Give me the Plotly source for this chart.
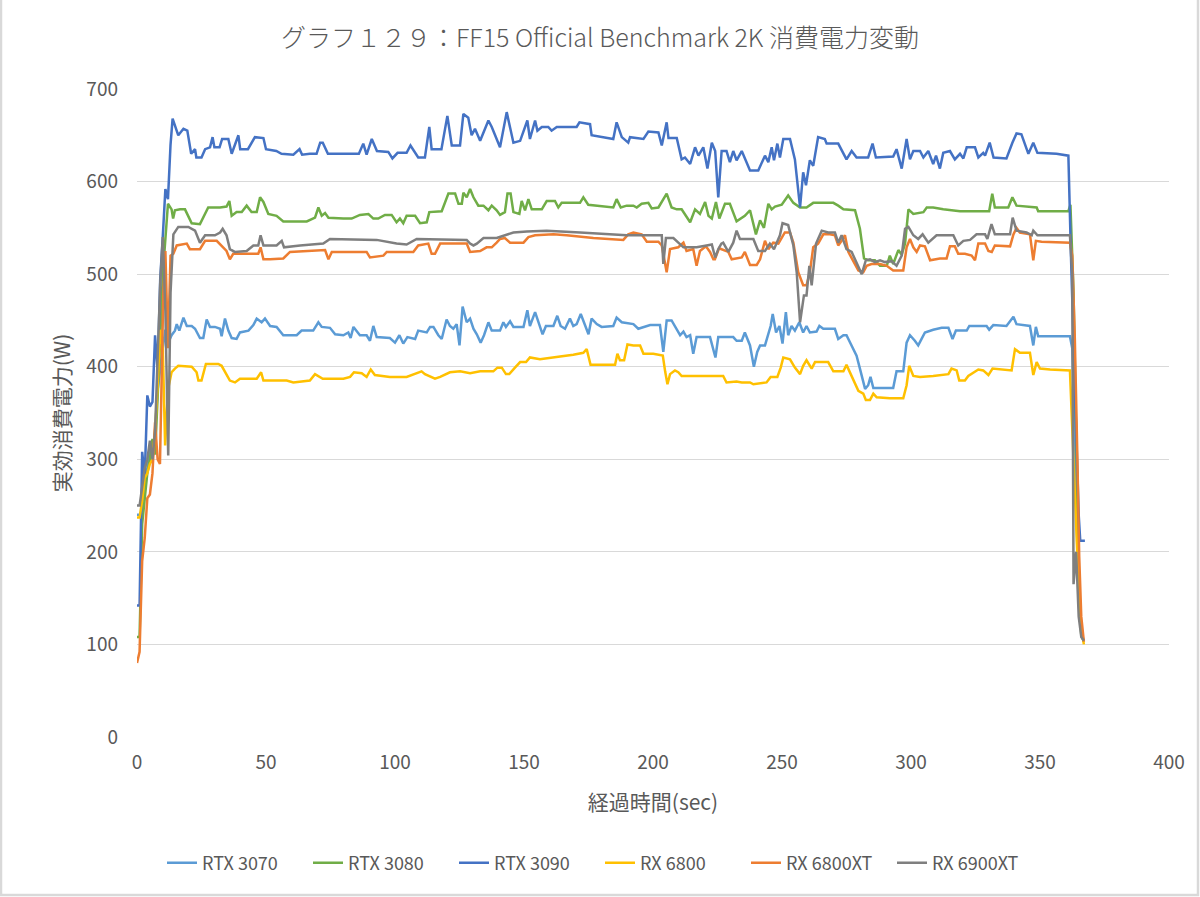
import plotly.graph_objects as go

# elapsed time (sec), watts, one list per card
RTX3070 = [(0,240),(1,240),(2,245),(3,275),(4,290),(5,312),(6,305),(7,330),(8,375),(9,400),(10,420),(11,440),(12,425),
    (13.4,434),(14.7,439),(15.4,446),(16.4,439),(18,453),(19.3,444),(21.2,444),(22.5,441),(24.4,431),(25.7,431),(27,451),
    (28.3,443),(30.2,443),(32.2,441),(32.8,433),(34.1,452),(35.4,439),(36.7,431),(38.6,430),(39.9,437),(43.2,439),(45.1,445),
    (46.4,452),(48.3,448),(49.6,452),(51.6,444),(54.1,443),(56.7,434),(61.9,434),(63.8,439),(68.3,439),(70.3,448),(71.6,443),
    (74.8,442),(76.8,435),(80,434),(81.9,437),(82.8,431),(83.9,443),(86.4,434),(89,434),(90.3,428),(91.6,444),(92.9,432),
    (98,431),(100,426),(101.7,434),(103.2,425),(104.8,432),(107.8,430),(109,439),(112.3,437),(113.6,443),(114.9,443),
    (116.8,434),(118.1,430),(120,451),(121.3,444),(122.6,441),(123.9,446),(125,423),(126.2,465),(127.8,448),(129.1,452),
    (130.4,441),(131.7,435),(133.2,426),(134.5,434),(136.2,448),(137.5,439),(140.7,439),(142,448),(143,443),(144.6,449),
    (145.9,443),(149.8,443),(151.3,461),(152.3,444),(154.3,459),(155.6,448),(157.2,435),(158.5,444),(161.4,444),(162.9,455),
    (164.2,444),(165.9,441),(167.8,452),(169.1,444),(170.4,446),(172,457),(173.7,444),(175,435),(176.2,452),(178.2,446),
    (180.1,443),(184.6,444),(185.9,453),(187.9,448),(192.4,446),(194.3,441),(198.9,445),(202.7,445),(204,416),(205.3,450),
    (207.2,450),(209.2,441),(210.5,434),(211.8,438),(213,432),(214.4,434),(215.6,414),(216.9,432),(222.1,432),(224.2,410),
    (225.3,432),(231.1,432),(232.4,428),(234.4,428),(235.6,437),(237.6,423),(239.1,400),(240.4,416),(241.5,423),(243.4,423),
    (245.6,444),(246.4,457),(247.7,437),(249,444),(250.2,425),(251.5,459),(252.4,434),(253.7,444),(255,439),(256.7,448),
    (258.2,437),(259.5,444),(260.8,437),(263.4,438),(264.5,444),(266,441),(270.5,441),(271.8,430),(273.8,434),(275,434),
    (277,423),(278.9,412),(280.2,398),(282.2,376),(283.4,380),(284.3,389),(285.4,377),(293.1,377),(294.4,395),(297,395),
    (298.3,426),(299.6,434),(301.5,428),(302.8,423),(304.1,430),(305.4,437),(308.6,440),(311.9,442),(314.5,442),(316.1,430),
    (317.4,439),(321.6,439),(322.6,444),(329.3,444),(330.3,440),(331.9,445),(337,444),(339.7,454),(340.9,446),(346.1,444),
    (347.4,423),(348.4,443),(349.3,433),(361.6,433),(362.5,420),(363.5,330),(364.5,200),(365.5,130),(366.5,108),(367,104)]

RTX3080 = [(0,108),(1,108),(2,230),(3,262),(4,285),(5,300),(6,322),(7,305),(8,360),(9,430),(10,500),(11,540),(12,576),
    (13.4,570),(14,560),(14.7,569),(16.7,570),(18.6,570),(21.2,555),(24.4,554),(27.6,572),(32.2,572),(34.7,573),(35.8,579),
    (36.7,563),(38.6,567),(40.6,567),(42.5,574),(44.4,567),(46.4,567),(47.7,583),(49,578),(50.9,565),(54.1,563),(56.7,557),
    (65.8,557),(69,561),(70.3,572),(71.6,563),(72.9,566),(74.2,561),(80,560),(83.2,560),(86.4,564),(89.7,565),(91.6,560),
    (93.5,560),(96.1,564),(98.7,564),(100.6,556),(101.9,560),(103.2,555),(104.5,563),(107.8,563),(109.7,555),(112.3,556),
    (113.3,567),(118.1,568),(120.7,587),(123.3,587),(124.6,576),(125.9,576),(126.5,588),(127.8,583),(129.1,592),(130.4,583),
    (132.3,574),(134.3,574),(136.2,569),(137.5,574),(139.4,569),(140.7,564),(142.6,567),(143.6,587),(144.8,587),(145.9,567),
    (148.2,565),(149.1,579),(150.4,569),(151.7,581),(153,570),(156.9,570),(158.8,579),(162,579),(163.3,572),(164.6,577),
    (171.7,577),(173,583),(174.9,575),(184.6,572),(185.9,581),(187.5,572),(189.8,574),(192.4,574),(193.7,572),(195.6,576),
    (198.2,577),(199.5,571),(202.1,572),(205.3,587),(207.2,572),(209.2,570),(211.1,570),(214.4,556),(216.3,570),(218.2,565),
    (220.2,578),(221.5,563),(222.8,560),(224.4,578),(225.7,560),(227.9,576),(229.8,576),(232.4,557),(235.6,563),(237.6,569),
    (238.9,556),(239.9,543),(241.5,558),(243,550),(244.7,576),(246,570),(247.3,573),(249.9,575),(252.4,585),(254.4,577),
    (257,572),(259.5,572),(262.1,577),(269.9,577),(271.8,574),(273.8,570),(278.3,569),(280.2,549),(281.8,517),(283.4,515),
    (286,515),(288,509),(290.6,509),(291.8,520),(293.1,511),(295.1,526),(296.4,521),(297.7,533),(299,570),(300.9,565),
    (304.8,567),(306.1,572),(308.6,572),(312.5,570),(319,568),(330.3,568),(331.5,587),(332.5,572),(337.7,572),(339.3,583),
    (340.9,574),(348.7,572),(349.3,568),(361,568),(361.8,575),(363,480),(364,330),(365,160),(366,110),(367,103)]

RTX3090 = [(0,142),(1,142),(2,308),(3,282),(4,369),(5,357),(6,362),(7,434),(8,395),(9,495),(10,541),(11,592),(12,581),
    (13,640),(13.8,668),(16,650),(18,657),(19.5,655),(21,630),(22.5,635),(23,626),(25,626),(26.4,635),(28.3,637),(29.3,648),
    (30,637),(32,637),(33,646),(35.4,646),(36.7,630),(39.3,650),(40,635),(43,635),(45.7,648),(49,647),(50,635),(54,633),
    (56,630),(60.6,629),(63,635),(64,629),(67,630),(69.6,630),(71,642),(72,642),(74,630),(86,630),(87.7,641),(89,629),
    (91,646),(93,633),(97.4,632),(99,625),(101,631),(104.5,631),(106,639),(109,626),(111.6,626),(113.3,659),(114.2,635),
    (118,635),(120.3,671),(122,639),(125.2,639),(126.5,673),(128.4,669),(129.7,650),(131,657),(133,644),(136.2,666),
    (137.5,659),(140.7,637),(143.3,675),(145.9,642),(148.5,644),(151.3,666),(152.3,646),(154.3,666),(155.2,655),(156.9,659),
    (159.4,659),(160.7,655),(162.7,659),(170.4,659),(171.5,664),(175.6,662),(176.2,650),(184.6,646),(185.9,664),(187.9,648),
    (190.4,642),(191.1,648),(196.3,646),(198.2,654),(202.1,653),(203.4,639),(205.3,664),(206,647),(209.2,647),(211.1,624),
    (212.4,626),(214.4,619),(216.3,637),(217.6,628),(219.5,637),(221.1,614),(222.8,642),(224.1,633),(225.3,583),(226.6,633),
    (228.5,633),(229.8,621),(231.1,633),(232.4,623),(234.4,633),(237.6,612),(240.8,612),(243.4,628),(244.7,621),(246,637),
    (246.9,623),(248.2,641),(249.2,626),(250.5,646),(253.1,646),(255,624),(257,572),(258.2,610),(259.3,596),(260.8,623),
    (262.1,617),(264,648),(266.6,646),(267.3,641),(271.8,641),(275,624),(277,633),(278.9,626),(283.4,626),(285.1,641),
    (286.4,626),(293.1,627),(294.4,635),(296.4,614),(298.3,646),(299.6,624),(300.9,633),(303.5,633),(304.8,626),(306.7,633),
    (308.6,619),(309.7,628),(311.2,614),(312.5,631),(315.1,633),(317,624),(319,630),(320.3,625),(321.6,637),(324.8,637),
    (326.1,626),(328,631),(328.7,628),(330.5,642),(332,626),(337,625),(339.3,642),(340.9,652),(342.8,651),(345.5,630),
    (347.4,642),(349,631),(356.4,630),(361,628),(362,520),(363,420),(364,330),(365,240),(365.6,212),(367.4,212)]

RX6800 = [(0,237),(1,237),(2,255),(3,280),(4,285),(5,295),(6,300),(7,330),(8,380),(9,440),(10,420),(10.9,315),(12,375),
    (13.4,394),(14.7,398),(16,401),(21.2,400),(23.1,394),(23.8,385),(25,385),(26.7,403),(31.5,403),(32.8,401),(36,385),
    (38,383),(39.9,387),(46.4,387),(48.1,394),(49,385),(58,385),(60.6,383),(67,385),(69,392),(70.9,389),(72,387),(80,387),
    (82.6,389),(84.1,394),(87.1,393),(89,389),(90.6,397),(92.2,391),(98,389),(104.5,389),(110.3,395),(111.6,392),(113.6,389),
    (115.5,387),(117.5,389),(121.3,394),(125.2,395),(129.1,393),(133,395),(138.1,395),(139.7,399),(141.4,399),(143,392),
    (144.3,392),(146.5,399),(148.5,405),(150.8,405),(152.3,410),(156.2,408),(159.4,409),(164,411),(169.1,413),(173,415),
    (174.3,419),(175.8,402),(185.3,402),(186.2,414),(187.2,407),(188.8,407),(190.1,424),(192.4,423),(195,423),(196.3,414),
    (200.1,414),(203.8,412),(204.7,395),(205.6,381),(206.6,392),(208.5,396),(209.8,394),(211.1,390),(216.9,390),(227.2,390),
    (228.5,383),(232.4,384),(234.4,383),(237.6,383),(238.9,381),(244,383),(245.6,389),(248.2,389),(249.5,399),(250.5,410),
    (253.1,408),(255,399),(257,392),(258.2,401),(259.5,407),(261.5,398),(262.8,405),(267.9,405),(269.9,395),(273.8,395),
    (275,402),(276.3,394),(277.6,385),(279.6,374),(281.5,371),(282.5,364),(284.1,364),(285.4,371),(286.7,367),(291.8,366),
    (297,366),(298.3,380),(299.3,401),(300.9,390),(303.5,389),(308.6,390),(314.5,392),(315.7,398),(317.7,396),(318.7,385),
    (320.9,385),(322.2,390),(326.1,397),(328,396),(330,391),(331.6,398),(339,396),(340.3,419),(342.2,415),(346.1,415),
    (347.4,391),(348.7,405),(350,398),(353.9,397),(361.6,396),(362.5,330),(363.5,250),(365,160),(366,118),(367,100)]

RX6800XT = [(0,80),(1,92),(2,190),(3,215),(4,258),(5,262),(6,285),(7,340),(8,300),(8.9,295),(10.2,480),(11,525),(12,420),
    (13,520),(14.1,522),(15.4,531),(19.3,533),(20.5,527),(24.4,527),(26.4,536),(30.9,536),(32.8,531),(34.7,525),(36,516),
    (37.3,522),(47,522),(47.9,529),(49,516),(51.6,516),(56.7,517),(59.3,524),(72.9,526),(74.2,516),(75.5,524),(89,524),
    (90.3,518),(95.5,520),(96.8,524),(107.1,524),(109,531),(112.9,533),(114.2,522),(115.5,522),(117.5,533),(127.8,533),
    (129.1,524),(133,525),(135.5,529),(137.5,529),(139.4,534),(140.7,538),(142.6,539),(144.6,534),(149.8,534),(151.7,540),
    (154.3,542),(161.4,543),(166.5,542),(176.9,539),(188.5,537),(190.4,543),(192.4,545),(195.6,543),(197.6,535),(202.1,535),
    (203.4,531),(205.3,502),(206.6,527),(209.8,529),(211.8,534),(213,525),(215.6,527),(216.9,509),(218.2,525),(220.5,530),
    (222.1,524),(223.4,516),(224,516),(225.6,528),(229.2,524),(230.5,516),(234.4,518),(235.6,524),(237.6,510),(240.2,510),
    (241.5,516),(243.4,536),(244.7,527),(246.6,534),(248.6,533),(251.1,545),(253.1,545),(254.4,534),(256.3,502),(258.2,488),
    (259.5,488),(260.8,502),(262.1,529),(264,533),(266,543),(268.6,543),(270.5,542),(271.8,531),(273.1,536),(274.4,542),
    (275.7,524),(277.6,515),(279.6,504),(281.5,502),(282.8,509),(284.7,511),(288,511),(290.6,509),(293.1,504),(297,504),
    (298.3,529),(299.6,538),(300.9,529),(302.2,524),(303.5,531),(305.4,530),(307.4,515),(311.2,517),(313.8,517),(315.1,530),
    (317,530),(318.3,522),(320.9,522),(323.5,520),(324.8,515),(326.1,533),(328.7,533),(330,525),(331.3,524),(332.5,531),
    (338.4,530),(339.7,543),(340.9,550),(342.2,545),(346.1,543),(347.4,515),(348.4,536),(350.6,535),(361.6,534),(362.5,520),
    (363.5,430),(364.5,300),(365.2,195),(366,130),(367,103)]

RX6900XT = [(0,250),(1,250),(2,270),(3,290),(4,300),(5,320),(6,300),(7,330),(8,410),(9,490),(10,540),(11,460),(12.1,304),
    (13,480),(14.1,543),(16,551),(19.9,551),(22.5,547),(24.4,534),(26.4,542),(30.2,542),(32.2,545),(33.2,549),(34.7,542),
    (36,527),(37.9,524),(42.5,525),(45.1,531),(47,531),(47.9,542),(49,531),(54.1,531),(56.1,536),(57,529),(63.2,531),
    (72.2,533),(74.8,538),(92.9,537),(100.6,533),(104.5,532),(108.4,538),(127.8,537),(129.1,533),(130.4,531),(131.7,533),
    (134.3,539),(139.4,539),(143.9,543),(145.9,545),(151.1,546),(158.8,547),(171.7,545),(182.1,543),(189.8,542),(203.4,542),
    (204,511),(205,539),(207.9,539),(211.8,529),(216.9,529),(220.8,531),(222.8,532),(224.1,518),(225.3,527),(226.5,533),
    (227.2,534),(229.2,524),(231.1,534),(232.4,547),(233.7,538),(238.9,538),(240.8,525),(243.4,525),(245.3,533),(246.9,527),
    (249.2,542),(250.2,555),(252.4,553),(254.4,531),(255.7,502),(257,448),(258.5,477),(259.5,477),(260.6,509),(261.5,488),
    (263.2,533),(265.4,547),(267.9,545),(270.5,545),(271.8,534),(273.1,542),(275,527),(277,524),(278.9,513),(280.9,500),
    (282.5,515),(284.1,516),(286,513),(288,515),(289.9,513),(292.5,514),(294.4,509),(296.4,520),(297.7,549),(299,551),
    (300.9,542),(302.8,538),(304.5,543),(306.7,534),(309.9,542),(316.4,542),(318.3,531),(320.3,536),(322.9,537),(325.4,543),
    (328.7,543),(329.6,538),(331.2,554),(332.5,543),(338.4,543),(339.4,561),(340.9,547),(344.8,545),(346.8,542),(347.4,547),
    (349,542),(361.6,542),(362.5,500),(363,165),(364,200),(365,130),(366,108),(367,104)]

names = ['RTX 3070', 'RTX 3080', 'RTX 3090', 'RX 6800', 'RX 6800XT', 'RX 6900XT']
series = [RTX3070, RTX3080, RTX3090, RX6800, RX6800XT, RX6900XT]
colors = ['#5B9BD5', '#70AD47', '#4472C4', '#FFC000', '#ED7D31', '#7F7F7F']

x_ticks = [0, 50, 100, 150, 200, 250, 300, 350, 400]
y_ticks = [0, 100, 200, 300, 400, 500, 600, 700]

jp = 'Noto Sans CJK JP'
grey_txt = '#595959'

fig = go.Figure()
for name, pts, col in zip(names, series, colors):
    t, w = zip(*pts)
    fig.add_trace(go.Scatter(x=t, y=w, mode='lines', name=name,
                             line=dict(color=col, width=2.5)))

fig.update_layout(
    width=1200, height=897,
    paper_bgcolor='white', plot_bgcolor='white',
    margin=dict(l=137, r=31, t=89, b=160),
    font=dict(family=jp, color=grey_txt),
    title=dict(text='グラフ１２９：FF15 Official Benchmark 2K 消費電力変動',
               x=0.5, xref='container', xanchor='center',
               y=1 - 38 / 897, yref='container', yanchor='middle',
               font=dict(size=25, color=grey_txt, family=jp, weight=300)),
    legend=dict(orientation='h', x=0.5, xref='container', xanchor='center',
                y=1 - 863 / 897, yref='container', yanchor='middle',
                font=dict(size=18, color=grey_txt), entrywidth=101, entrywidthmode='pixels'),
    showlegend=True,
)
fig.update_xaxes(range=[0, 400], tickvals=x_ticks, showgrid=False, zeroline=False,
                 showline=False, tickfont=dict(size=19, color=grey_txt),
                 ticklabelstandoff=12,
                 title=dict(text='経過時間(sec)', font=dict(size=21, color=grey_txt), standoff=22))
fig.update_yaxes(range=[0, 700], tickvals=y_ticks, showgrid=True, gridcolor='#D9D9D9',
                 gridwidth=1.3, zeroline=False, showline=False,
                 tickfont=dict(size=19, color=grey_txt), ticklabelstandoff=18,
                 title=dict(text='実効消費電力(W)', font=dict(size=21, color=grey_txt), standoff=10))

# thin grey frame round the whole chart
fig.add_shape(type='rect', xref='paper', yref='paper',
              x0=-136 / 1032, x1=1061 / 1032, y0=-158 / 648, y1=807 / 648,
              line=dict(color='#D9D9D9', width=2.5), fillcolor='rgba(0,0,0,0)', layer='below')

# page body has a default 8px margin; drop it so the chart sits at the window origin
fig.write_html('out.html', config={'displayModeBar': False},
               post_script="document.body.style.margin='0';")
